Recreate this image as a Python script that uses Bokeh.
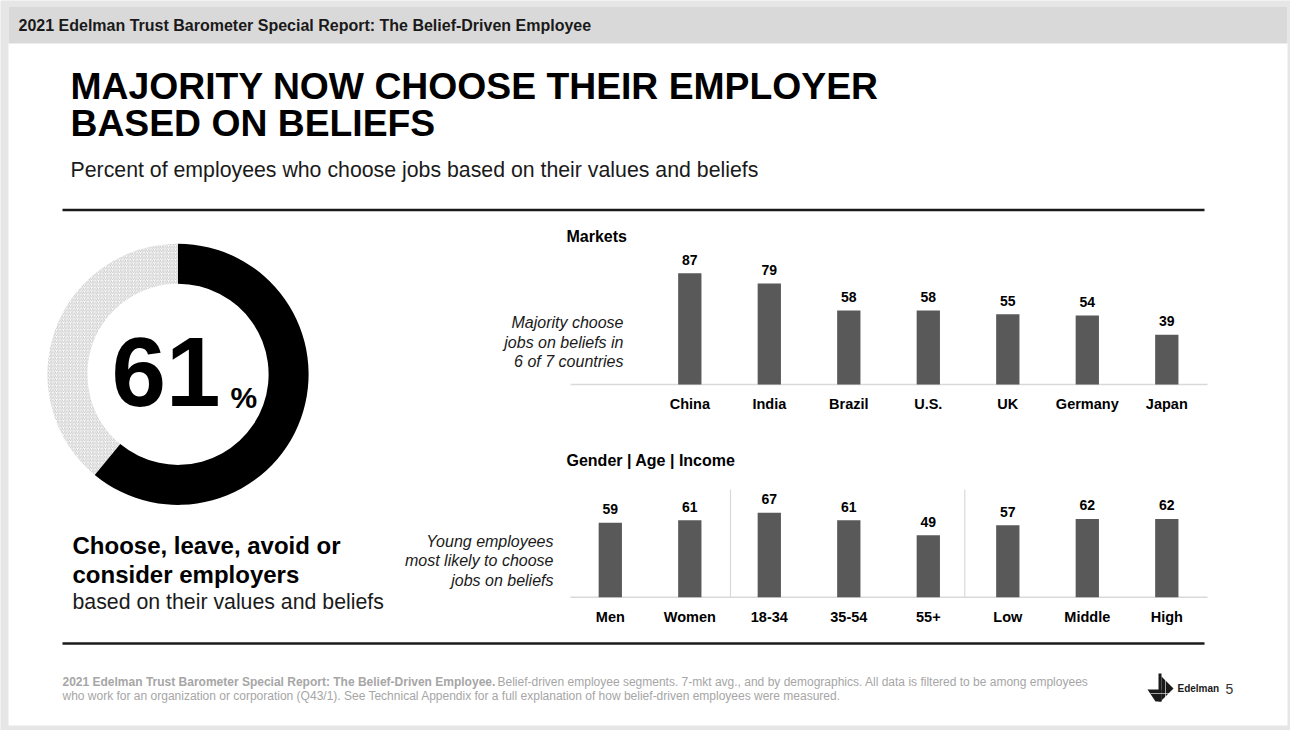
from bokeh.plotting import figure
from bokeh.models import Range1d
from bokeh.core.properties import value
from bokeh.embed import file_html
from bokeh.resources import INLINE

# ---------------- data ----------------
markets = ["China", "India", "Brazil", "U.S.", "UK", "Germany", "Japan"]
market_vals = [87, 79, 58, 58, 55, 54, 39]
demo_groups = ["Men", "Women", "18-34", "35-54", "55+", "Low", "Middle", "High"]
demo_vals = [59, 61, 67, 61, 49, 57, 62, 62]
overall = 61

header_text = "2021 Edelman Trust Barometer Special Report: The Belief-Driven Employee"
title_lines = ["MAJORITY NOW CHOOSE THEIR EMPLOYER", "BASED ON BELIEFS"]
subtitle = "Percent of employees who choose jobs based on their values and beliefs"
markets_title = "Markets"
demo_title = "Gender | Age | Income"
markets_note = ["Majority choose", "jobs on beliefs in", "6 of 7 countries"]
demo_note = ["Young employees", "most likely to choose", "jobs on beliefs"]
left_bold = ["Choose, leave, avoid or", "consider employers"]
left_regular = "based on their values and beliefs"
foot_bold = "2021 Edelman Trust Barometer Special Report: The Belief-Driven Employee."
foot_rest1 = ("Belief-driven employee segments. 7-mkt avg., and by demographics. "
              "All data is filtered to be among employees")
foot_line2 = ("who work for an organization or corporation (Q43/1). See Technical Appendix "
              "for a full explanation of how belief-driven employees were measured.")
page_number = "5"

FONT = "Liberation Sans"
W, H = 1290, 730
BL = 0.375  # baseline correction (fraction of font size) for svg text

p = figure(width=W, height=H, output_backend="svg", toolbar_location=None,
           x_range=Range1d(0, W), y_range=Range1d(H, 0),
           x_axis_type=None, y_axis_type=None, min_border=0,
           outline_line_color=None, background_fill_color="#e6e6e6",
           border_fill_color="#e6e6e6")
p.grid.visible = False

SLOT = 79.5
MK_X0 = 689.3
DM_X0 = 609.8


def idx_range(x0):
    s = -x0 / SLOT
    return Range1d(s, s + W / SLOT)


def val_range(base, k):
    return Range1d((base - H) / k, base / k)


MK_BASE, MK_K = 384.0, 1.278
DM_BASE, DM_K = 596.7, 1.262
p.extra_x_ranges = {"mkx": idx_range(MK_X0), "dmx": idx_range(DM_X0)}
p.extra_y_ranges = {"mky": val_range(MK_BASE, MK_K), "dmy": val_range(DM_BASE, DM_K)}


def txt(x, y, s, size, style="normal", color="#000000", align="left", font=FONT):
    # y is the wanted alphabetic baseline
    p.text(x=[x], y=[y - BL * size], text=[s], text_font=value(font),
           text_font_size=value(f"{size}px"), text_font_style=value(style),
           text_color=color, text_align=value(align),
           text_baseline=value("alphabetic"))


# slide + header band
p.quad(left=[8], right=[1287], top=[6], bottom=[725], fill_color="white",
       line_color=None)
p.quad(left=[8], right=[1287], top=[6], bottom=[43], fill_color="#d9d9d9",
       line_color=None)
txt(18, 31, header_text, 16, "bold", "#1a1a1a")

# title and subtitle
txt(70, 99.5, title_lines[0], 37.3, "bold")
txt(70, 136.5, title_lines[1], 37.3, "bold")
txt(70, 177, subtitle, 21.3, "normal", "#1a1a1a")

# rules
p.segment(x0=[62, 62], y0=[209.5, 643], x1=[1204, 1204], y1=[209.5, 643],
          line_color="#1a1a1a", line_width=2.5)

# donut
CX, CY, R_IN, R_OUT = 177.5, 373.8, 90.6, 130.6
end_black = 90 - overall / 100 * 360
p.annular_wedge(x=[CX], y=[CY], inner_radius=R_IN, outer_radius=R_OUT,
                start_angle=90, end_angle=end_black + 360, start_angle_units="deg",
                end_angle_units="deg", direction="anticlock", fill_color="white",
                hatch_pattern="/", hatch_color="#b8b8b8", hatch_scale=3.5,
                hatch_weight=0.8, line_color=None)
p.annular_wedge(x=[CX], y=[CY], inner_radius=R_IN, outer_radius=R_OUT,
                start_angle=end_black, end_angle=90, start_angle_units="deg",
                end_angle_units="deg", direction="anticlock", fill_color="#000000",
                line_color=None)
txt(111, 408, str(overall), 98, "bold")
txt(230, 408, "%", 30, "bold")

# left block text
txt(72, 554, left_bold[0], 24, "bold")
txt(72, 583, left_bold[1], 24, "bold")
txt(72, 609, left_regular, 21.3, "normal", "#1a1a1a")

# ---- Markets chart ----
txt(566, 242, markets_title, 16, "bold")
for i, s in enumerate(markets_note):
    txt(623, 328.3 + i * 19.4, s, 16, "italic", "#1a1a1a", align="right")
p.segment(x0=[570], y0=[MK_BASE], x1=[1207], y1=[MK_BASE], line_color="#d9d9d9",
          line_width=1.5)
mk_idx = list(range(len(markets)))
p.vbar(x=mk_idx, top=market_vals, width=0.293, fill_color="#595959", line_color=None,
       x_range_name="mkx", y_range_name="mky")
p.text(x=mk_idx, y=market_vals, text=[str(v) for v in market_vals],
       x_range_name="mkx", y_range_name="mky", y_offset=-8.4 - BL * 14,
       text_font=value(FONT), text_font_size=value("14px"),
       text_font_style=value("bold"), text_align=value("center"),
       text_baseline=value("alphabetic"), text_color="#000000")
p.text(x=mk_idx, y=[409 - BL * 14.5] * len(markets), text=markets, x_range_name="mkx",
       text_font=value(FONT), text_font_size=value("14.5px"),
       text_font_style=value("bold"), text_align=value("center"),
       text_baseline=value("alphabetic"), text_color="#000000")

# ---- Demographics chart ----
txt(566, 466, demo_title, 16, "bold")
for i, s in enumerate(demo_note):
    txt(553, 546.7 + i * 19.4, s, 16, "italic", "#1a1a1a", align="right")
p.segment(x0=[570], y0=[DM_BASE], x1=[1207], y1=[DM_BASE], line_color="#d9d9d9",
          line_width=1.5)
p.segment(x0=[730, 964.3], y0=[489, 489], x1=[730, 964.3], y1=[DM_BASE, DM_BASE],
          line_color="#d9d9d9", line_width=1.2)
dm_idx = list(range(len(demo_groups)))
p.vbar(x=dm_idx, top=demo_vals, width=0.293, fill_color="#595959", line_color=None,
       x_range_name="dmx", y_range_name="dmy")
p.text(x=dm_idx, y=demo_vals, text=[str(v) for v in demo_vals],
       x_range_name="dmx", y_range_name="dmy", y_offset=-8.4 - BL * 14,
       text_font=value(FONT), text_font_size=value("14px"),
       text_font_style=value("bold"), text_align=value("center"),
       text_baseline=value("alphabetic"), text_color="#000000")
p.text(x=dm_idx, y=[622 - BL * 14.5] * len(demo_groups), text=demo_groups,
       x_range_name="dmx",
       text_font=value(FONT), text_font_size=value("14.5px"),
       text_font_style=value("bold"), text_align=value("center"),
       text_baseline=value("alphabetic"), text_color="#000000")

# ---- footer ----
txt(62, 686, foot_bold, 12, "bold", "#a6a6a6")
txt(497, 686, foot_rest1, 12, "normal", "#a6a6a6")
txt(62, 700, foot_line2, 12, "normal", "#a6a6a6")

# logo
p.patches(xs=[[1161, 1173, 1161], [1147, 1161, 1161, 1155], [1158, 1161, 1161, 1158]],
          ys=[[676, 688, 700], [689, 689, 701, 701], [673, 673, 701, 701]],
          fill_color="#1a1a1a", line_color=None)
p.segment(x0=[1150, 1165], y0=[693, 679], x1=[1173, 1165], y1=[693, 701],
          line_color="white", line_width=0.6)
txt(1177, 692, "Edelman", 10, "bold", "#1a1a1a")
txt(1225, 693.5, page_number, 14, "normal", "#333333")

open("out.html", "w").write(file_html(p, INLINE))
